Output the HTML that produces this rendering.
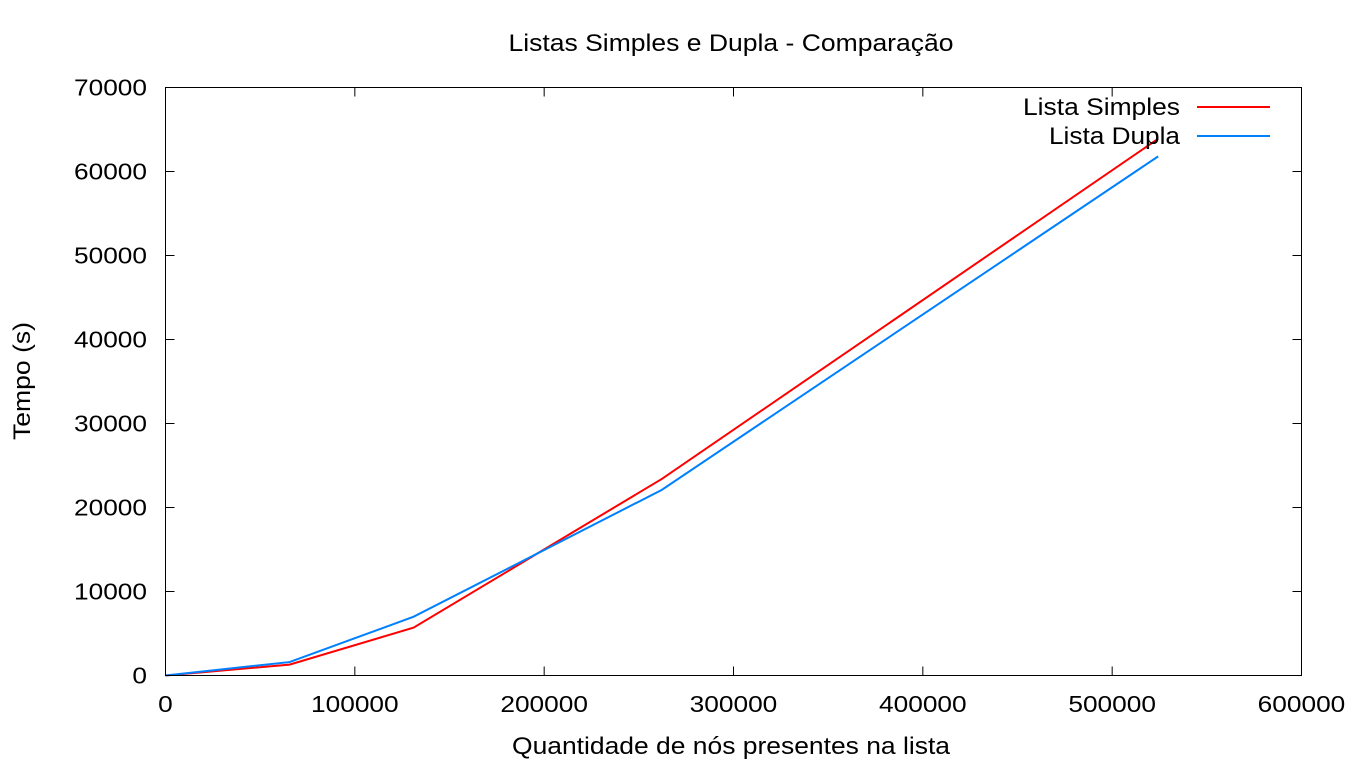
<!DOCTYPE html>
<html><head><meta charset="utf-8"><style>
html,body{margin:0;padding:0;background:#fff;}
svg{display:block;font-family:"Liberation Sans",sans-serif;}
</style></head><body>
<svg id="chart" width="1366" height="768" xmlns="http://www.w3.org/2000/svg">
<rect width="1366" height="768" fill="#fff"/>
<text x="731" y="51" font-size="24" text-anchor="middle" textLength="445" lengthAdjust="spacingAndGlyphs">Listas Simples e Dupla - Comparação</text>
<text x="731" y="754" font-size="24" text-anchor="middle" textLength="438" lengthAdjust="spacingAndGlyphs">Quantidade de nós presentes na lista</text>
<text transform="translate(30,381) rotate(-90)" font-size="24" text-anchor="middle" textLength="118" lengthAdjust="spacingAndGlyphs">Tempo (s)</text>
<g id="axes"></g>
<g id="series"></g>
<rect x="165.5" y="87.5" width="1136" height="588" fill="none" stroke="#000" stroke-width="1"/>
<g>
<text x="1180" y="115" font-size="24" text-anchor="end" textLength="157" lengthAdjust="spacingAndGlyphs">Lista Simples</text>
<line x1="1197" y1="107" x2="1270" y2="107" stroke="#ff0000" stroke-width="2"/>
<text x="1180" y="144" font-size="24" text-anchor="end" textLength="131" lengthAdjust="spacingAndGlyphs">Lista Dupla</text>
<line x1="1197" y1="136" x2="1270" y2="136" stroke="#0080ff" stroke-width="2"/>
</g>
</svg>
<script>
const xValues = [0, 65536, 131072, 262144, 524288];
const simplesValues = [0, 1300, 5700, 23400, 63900];
const duplaValues = [0, 1600, 7000, 22100, 61800];
const xTicks = [0, 100000, 200000, 300000, 400000, 500000, 600000];
const yTicks = [0, 10000, 20000, 30000, 40000, 50000, 60000, 70000];

const L=165.5,R=1301.5,T=87.5,B=675.5;
const xs=v=>L+(v-0)/600000*(R-L);
const ys=v=>B-(v/70000)*(B-T);
const NS="http://www.w3.org/2000/svg";
const axes=document.getElementById('axes');
function mk(tag,attrs,parent){const e=document.createElementNS(NS,tag);for(const k in attrs)e.setAttribute(k,attrs[k]);parent.appendChild(e);return e;}
const perChar=14.6;
xTicks.forEach(v=>{
  const x=xs(v);
  const t1=mk('line',{x1:x,y1:B,x2:x,y2:B-9,stroke:'#000'},axes);
  
  
  const t2=mk('line',{x1:x,y1:T,x2:x,y2:T+9,stroke:'#000'},axes);
  
  
  const s=String(v);
  const tx=mk('text',{x:x,y:712,'font-size':23,'text-anchor':'middle',textLength:s.length*perChar,lengthAdjust:'spacingAndGlyphs'},axes);
  tx.textContent=s;
  
  
});
yTicks.forEach(v=>{
  const y=ys(v);
  const t1=mk('line',{x1:L,y1:y,x2:L+9,y2:y,stroke:'#000'},axes);
  
  
  const t2=mk('line',{x1:R,y1:y,x2:R-9,y2:y,stroke:'#000'},axes);
  
  
  const s=String(v);
  const tx=mk('text',{x:147,y:y+8,'font-size':23,'text-anchor':'end',textLength:s.length*perChar,lengthAdjust:'spacingAndGlyphs'},axes);
  tx.textContent=s;
  
  
});
const series=document.getElementById('series');
function line(vals,color,name){
  const p=mk('polyline',{points:xValues.map((x,i)=>xs(x)+','+ys(vals[i])).join(' '),fill:'none',stroke:color,'stroke-width':2},series);
  
  
}
line(simplesValues,'#ff0000','series-lista-simples');
line(duplaValues,'#0080ff','series-lista-dupla');
</script>
</body></html>
